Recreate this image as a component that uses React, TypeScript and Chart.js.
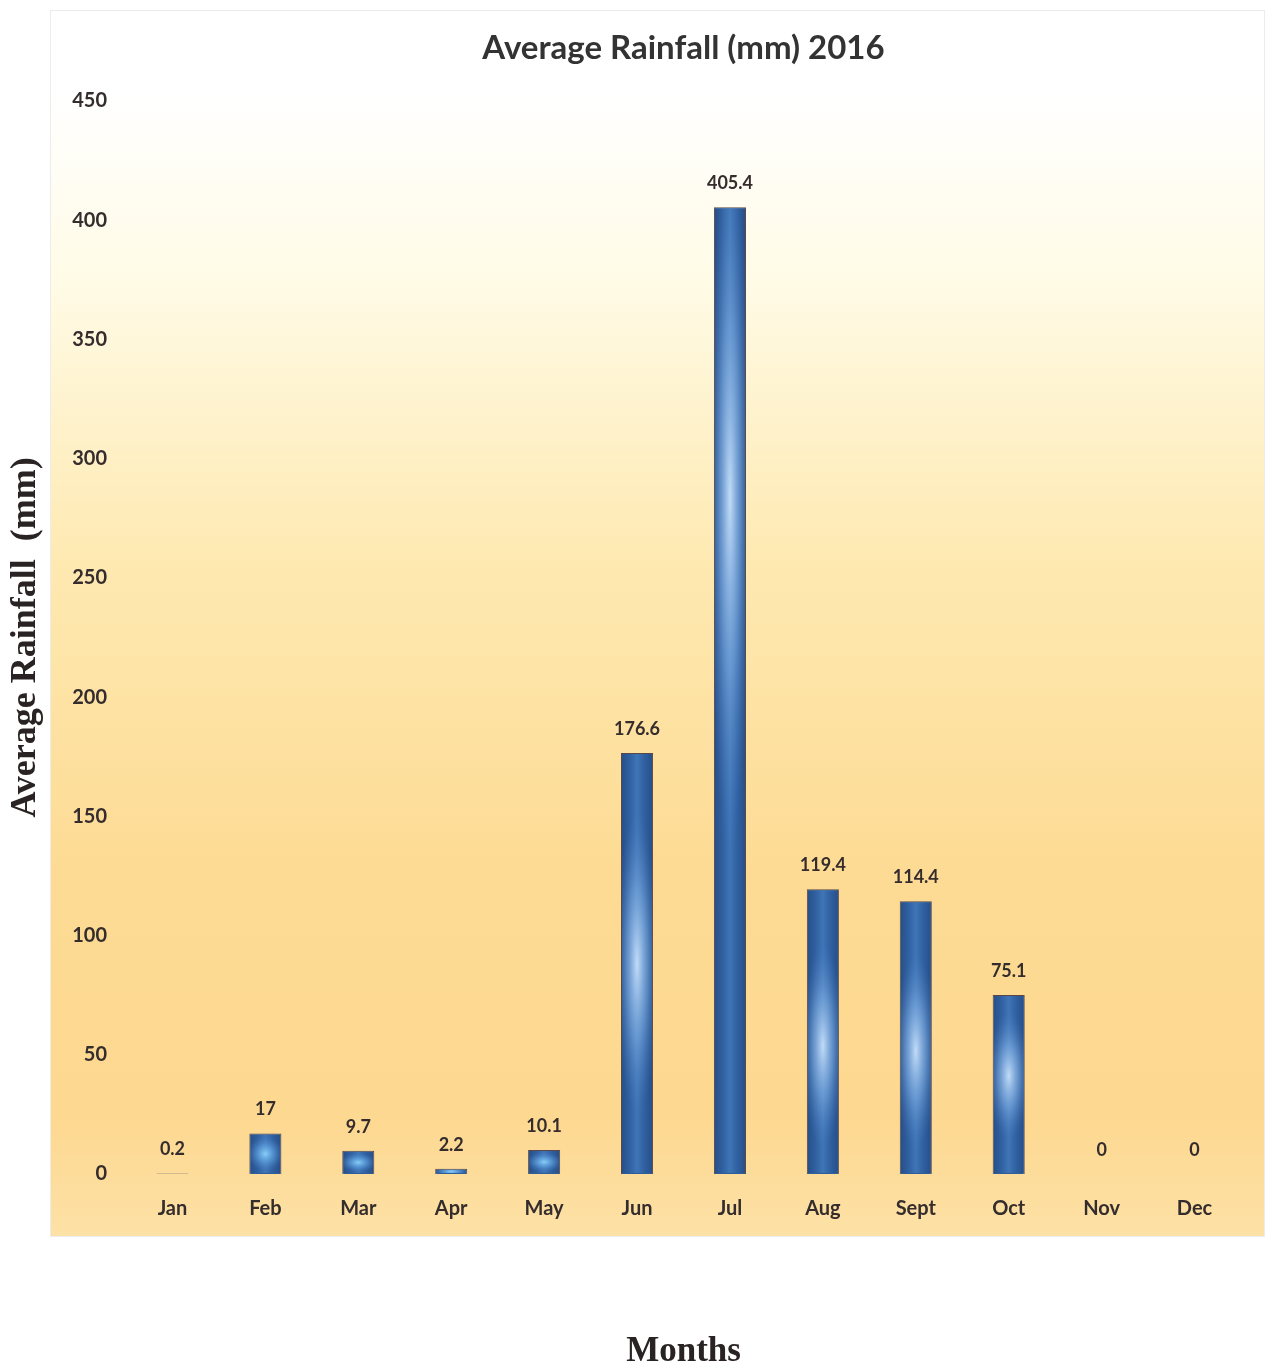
import React, { useEffect, useRef } from "react";
import { Chart, registerables } from "chart.js";

Chart.register(...registerables);

const months = ["Jan", "Feb", "Mar", "Apr", "May", "Jun", "Jul", "Aug", "Sept", "Oct", "Nov", "Dec"];
const rainfall = [0.2, 17, 9.7, 2.2, 10.1, 176.6, 405.4, 119.4, 114.4, 75.1, 0, 0];
const yTicks = [0, 50, 100, 150, 200, 250, 300, 350, 400, 450];
// relative vertical position of the light highlight inside each bar (style only)
const highlightPos = [0.5, 0.5, 0.5, 0.5, 0.5, 0.5, 0.3, 0.55, 0.55, 0.45, 0.5, 0.5];

const chartTitle = "Average Rainfall (mm) 2016";
const yTitle = "Average Rainfall  (mm)";
const xTitle = "Months";

const TEXT = "#352d2d";
const LABEL_FONT = "Lato, 'Open Sans', sans-serif";
const SERIF = "'Liberation Serif', 'Times New Roman', serif";

const backgroundPlugin = {
  id: "panelBackground",
  beforeDraw(chart: any) {
    const { ctx, chartArea } = chart;
    if (!chartArea) return;
    const left = chartArea.left - 76;
    const right = chartArea.right + 24;
    const top = 10;
    const bottom = chartArea.bottom + 63;
    ctx.save();
    const g = ctx.createLinearGradient(0, top, 0, bottom);
    g.addColorStop(0, "#ffffff");
    g.addColorStop(0.07, "#ffffff");
    g.addColorStop(0.22, "#fffbe6");
    g.addColorStop(0.45, "#fee9b1");
    g.addColorStop(0.7, "#fddb94");
    g.addColorStop(0.9, "#fdd890");
    g.addColorStop(1, "#fde1a6");
    ctx.fillStyle = g;
    ctx.fillRect(left, top, right - left, bottom - top);
    ctx.strokeStyle = "#ececec";
    ctx.lineWidth = 1;
    ctx.strokeRect(left + 0.5, top + 0.5, right - left - 1, bottom - top - 1);
    ctx.restore();
  },
};

const barShadePlugin = {
  id: "barShade",
  afterDatasetsDraw(chart: any) {
    const { ctx } = chart;
    const meta = chart.getDatasetMeta(0);
    meta.data.forEach((el: any, i: number) => {
      const { x, y, base, width } = el.getProps(["x", "y", "base", "width"], true);
      const h = base - y;
      if (h < 3) return;
      const l = x - width / 2 + 1;
      const w = width - 2;
      const t = y + 1;
      const hh = h - 2;
      ctx.save();
      ctx.beginPath();
      ctx.rect(l, t, w, hh);
      ctx.clip();
      const hg = ctx.createLinearGradient(l, 0, l + w, 0);
      hg.addColorStop(0, "#27508a");
      hg.addColorStop(0.25, "#3060a0");
      hg.addColorStop(0.5, "#3f75b7");
      hg.addColorStop(0.75, "#3060a0");
      hg.addColorStop(1, "#27508a");
      ctx.fillStyle = hg;
      ctx.fillRect(l, t, w, hh);
      const small = hh < 60;
      const cy = t + hh * highlightPos[i];
      const ry = Math.max(hh * (small ? 0.45 : 0.36), 6);
      const rx = w * (small ? 0.6 : 0.7);
      ctx.translate(x, cy);
      ctx.scale(rx, ry);
      const rg = ctx.createRadialGradient(0, 0, 0, 0, 0, 1);
      rg.addColorStop(0, small ? "rgba(140,210,250,0.95)" : "rgba(205,228,252,0.92)");
      rg.addColorStop(0.5, small ? "rgba(100,170,232,0.55)" : "rgba(140,186,236,0.5)");
      rg.addColorStop(1, "rgba(80,130,200,0)");
      ctx.fillStyle = rg;
      ctx.fillRect(-2, -2, 4, 4);
      ctx.restore();
    });
  },
};

const valueLabelPlugin = {
  id: "valueLabels",
  afterDatasetsDraw(chart: any) {
    const { ctx } = chart;
    const meta = chart.getDatasetMeta(0);
    const values = chart.data.datasets[0].data;
    ctx.save();
    ctx.font = `bold 18px ${LABEL_FONT}`;
    ctx.fillStyle = TEXT;
    ctx.textAlign = "center";
    ctx.textBaseline = "middle";
    meta.data.forEach((el: any, i: number) => {
      const { x, y } = el.getProps(["x", "y"], true);
      ctx.fillText(String(values[i]), x, y - 24);
    });
    ctx.restore();
  },
};

export default function App() {
  const canvasRef = useRef<HTMLCanvasElement | null>(null);

  useEffect(() => {
    if (!canvasRef.current) return;
    const chart = new Chart(canvasRef.current, {
      type: "bar",
      data: {
        labels: months,
        datasets: [
          {
            label: "Average Rainfall (mm)",
            data: rainfall,
            backgroundColor: "#2f5d9b",
            borderColor: "#5a4848",
            borderWidth: 1,
            barPercentage: 0.345,
            categoryPercentage: 1,
          },
        ],
      },
      options: {
        responsive: false,
        animation: false,
        layout: { padding: { left: 4, right: 34, top: 20, bottom: 0 } },
        plugins: {
          legend: { display: false },
          tooltip: { enabled: false },
          title: {
            display: true,
            text: chartTitle,
            fullSize: false,
            color: "#333333",
            font: { family: LABEL_FONT, size: 33, weight: "bold" },
            padding: { top: 8.2, bottom: 33.2 },
          },
        },
        scales: {
          x: {
            grid: { display: false },
            border: { display: false },
            ticks: {
              color: TEXT,
              font: { family: LABEL_FONT, size: 20, weight: "bold" },
              padding: 15,
              maxRotation: 0,
            },
            title: {
              display: true,
              text: xTitle,
              color: "#2a2323",
              font: { family: SERIF, size: 35, weight: "bold", lineHeight: 0.9 },
              padding: { top: 0, bottom: 0 },
            },
            afterFit(scale: any) {
              scale.height = 194;
            },
          },
          y: {
            min: 0,
            max: 450,
            afterBuildTicks(scale: any) {
              scale.ticks = yTicks.map((v) => ({ value: v }));
            },
            grid: { display: false },
            border: { display: false },
            ticks: {
              color: TEXT,
              font: { family: LABEL_FONT, size: 20, weight: "bold" },
              padding: 11,
            },
            title: {
              display: true,
              text: yTitle,
              color: "#2a2323",
              font: { family: SERIF, size: 36, weight: "bold" },
              padding: { top: 0, bottom: 0 },
            },
            afterFit(scale: any) {
              scale.width = 122;
            },
          },
        },
      },
      plugins: [backgroundPlugin, barShadePlugin, valueLabelPlugin],
    });
    return () => chart.destroy();
  }, []);

  return (
    <div style={{ position: "absolute", left: 0, top: 0, width: 1275, height: 1368, background: "#ffffff" }}>
      <canvas ref={canvasRef} width={1275} height={1368} />
    </div>
  );
}
